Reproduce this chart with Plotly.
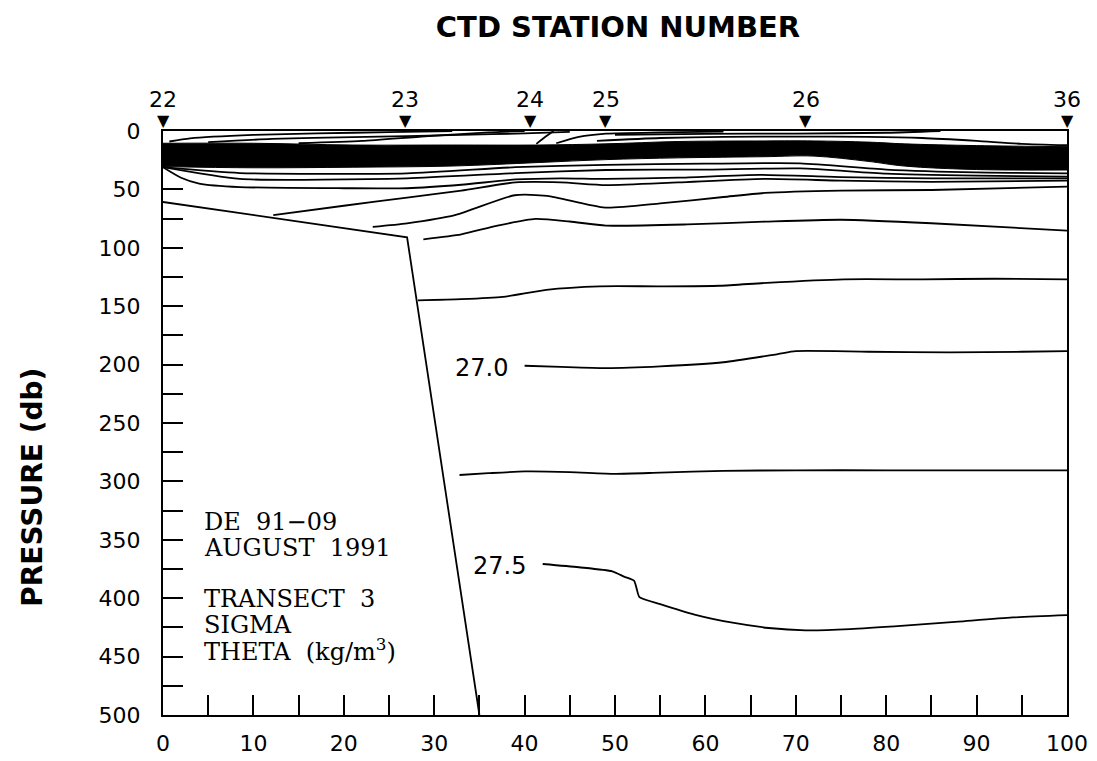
import plotly.graph_objects as go

# ---------------- data ----------------
station_x = [0, 26.8, 40.6, 49, 71.1, 100]
station_labels = ["22", "23", "24", "25", "26", "36"]

# bottom (bathymetry) outline
bottom_x = [0, 27, 35]
bottom_y = [60.8, 91, 500]

# dense near-surface pycnocline band (boundaries)
band_x = [0, 10, 21, 32, 41.5, 49, 57, 66.6, 72, 78, 82, 90, 100]
band_top = [10.5, 10.5, 12, 12, 12, 11, 9, 8.5, 8.5, 9.5, 11, 12.5, 13.4]
band_bot = [30.5, 31.5, 31, 30, 27, 24.5, 23, 22, 21.5, 26, 30, 33, 33.4]

# contours above the band
t1_x = [0.7, 3, 10, 17, 25, 32]
t1_y = [9, 6.3, 3.4, 2, 1, 0]
t2_x = [5, 12, 21, 33, 40, 45]
t2_y = [9.5, 6.8, 5.2, 3.4, 2, 0.8]
t3_x = [15, 22, 29, 36, 40]
t3_y = [10.5, 8.5, 4.5, 1.2, 0]
d1_x = [41.3, 42.3, 43.2]
d1_y = [11, 5, 0]
d2_x = [43.5, 46, 49, 55, 62]
d2_y = [10.5, 5, 2.2, 1.2, 0.5]
u1_x = [48, 55, 62, 70, 78, 84, 90, 95, 100]
u1_y = [8.5, 6, 5, 4.8, 5, 6, 8.5, 11, 12.2]
u2_x = [50, 60, 70, 80, 86]
u2_y = [3.2, 2.4, 2.2, 1.5, 0]

# contours below the band
p2_x = [0, 8.5, 27, 39, 49, 60, 70.5, 80, 90, 100]
p2_y = [31, 36, 36.2, 31, 29, 28, 27.7, 33, 35.5, 36.2]
p3_x = [0, 8.5, 27, 39, 49, 60, 70.5, 80, 90, 100]
p3_y = [31, 41, 40.5, 36, 33.4, 33, 32, 36.5, 38.2, 39]
q1_x = [0, 2, 4, 8.5, 20, 27, 33, 39, 44, 49, 57, 66, 75, 85, 100]
q1_y = [31, 40, 45, 48, 49, 49, 46, 41.5, 40.5, 41, 40, 37.5, 39.5, 40.5, 40.5]
l1_x = [12.2, 20, 27, 33, 39, 44, 49, 57, 66.6, 75, 85, 100]
l1_y = [72, 64, 57, 51, 44, 44, 46.3, 44, 41, 42.5, 43.5, 42.5]
l2_x = [23.2, 27, 32.3, 38.9, 42.5, 48.9, 55, 62, 66.6, 75, 85, 100]
l2_y = [82, 79, 72, 55, 55.5, 65.6, 62, 56.5, 53, 51, 50.5, 47.7]
l3_x = [28.8, 33, 37, 41.2, 45, 49, 58, 66.6, 75, 85, 100]
l3_y = [92.7, 88.5, 81, 75.3, 77.5, 81, 80, 77.6, 76, 79, 85.3]

# deeper isopycnals
c140_x = [28.2, 33, 37.6, 42.4, 48.3, 55, 61.6, 66.8, 75.3, 84, 92, 100]
c140_y = [145, 144, 142, 136, 133, 133, 132.5, 130, 127, 127, 126.5, 127]
c270_x = [40, 44, 49, 55, 62, 68, 70, 78, 87, 95, 100]
c270_y = [201, 202, 203, 201.5, 198, 191, 188.5, 189, 189.5, 189, 188.5]
c290_x = [32.8, 36, 40, 45, 50, 55, 62, 70, 80, 90, 100]
c290_y = [294.5, 293, 291.5, 292, 293.5, 292.5, 291, 290.5, 290.5, 290.5, 290.5]
c275_x = [42, 46, 49.7, 51, 52.1, 52.4, 52.7, 55, 58.8, 63, 67, 71.1, 76, 82, 88, 94, 100]
c275_y = [370.7, 373.5, 377, 381.5, 385, 392, 399, 405, 414, 421, 425.5, 427.5, 426.5, 423.5, 420, 416.5, 414.5]

contour_labels = ["27.0", "27.5"]
contour_label_x = [35.2, 37.2]
contour_label_y = [202.5, 372.4]

info_lines = ["DE  91\u221209", "AUGUST  1991", "TRANSECT  3", "SIGMA", "THETA  (kg/m<sup>3</sup>)"]
info_y = [334.8, 357.0, 400.7, 423.0, 444.3]

x_ticks = [0, 10, 20, 30, 40, 50, 60, 70, 80, 90, 100]
y_ticks = [0, 50, 100, 150, 200, 250, 300, 350, 400, 450, 500]

# ---------------- figure ----------------
fig = go.Figure()
LW = 1.8
BLACK = "black"

# dense band as filled region
fig.add_trace(go.Scatter(x=band_x, y=band_top, mode="lines",
                         line=dict(color=BLACK, width=1, shape="spline"),
                         hoverinfo="skip", showlegend=False))
fig.add_trace(go.Scatter(x=band_x, y=band_bot, mode="lines", fill="tonexty",
                         fillcolor=BLACK, line=dict(color=BLACK, width=1, shape="spline"),
                         hoverinfo="skip", showlegend=False))

lines = [
    (t1_x, t1_y), (t2_x, t2_y), (t3_x, t3_y), (d1_x, d1_y), (d2_x, d2_y),
    (u1_x, u1_y), (u2_x, u2_y),
    (p2_x, p2_y), (p3_x, p3_y), (q1_x, q1_y), (l1_x, l1_y), (l2_x, l2_y), (l3_x, l3_y),
    (c140_x, c140_y), (c270_x, c270_y), (c290_x, c290_y), (c275_x, c275_y),
]
for lx, ly in lines:
    fig.add_trace(go.Scatter(x=lx, y=ly, mode="lines",
                             line=dict(color=BLACK, width=LW, shape="spline", smoothing=0.6),
                             hoverinfo="skip", showlegend=False))

# bottom outline
fig.add_trace(go.Scatter(x=bottom_x, y=bottom_y, mode="lines",
                         line=dict(color=BLACK, width=LW),
                         hoverinfo="skip", showlegend=False))

# contour labels
for cx, cy, ct in zip(contour_label_x, contour_label_y, contour_labels):
    fig.add_annotation(x=cx, y=cy, xref="x", yref="y", text=ct, showarrow=False,
                       xanchor="center", yanchor="middle",
                       font=dict(family="DejaVu Sans", size=24, color=BLACK))

# station markers and numbers above the frame
for sx, sl in zip(station_x, station_labels):
    fig.add_annotation(x=sx, y=1.0188, xref="x", yref="paper", text="\u25BC",
                       showarrow=False, xanchor="center", yanchor="middle",
                       font=dict(family="DejaVu Sans", size=16, color=BLACK))
    fig.add_annotation(x=sx, y=1.0531, xref="x", yref="paper", text=sl,
                       showarrow=False, xanchor="center", yanchor="middle",
                       font=dict(family="DejaVu Sans", size=22, color=BLACK))

for txt, yy in zip(info_lines, info_y):
    fig.add_annotation(x=4.3, y=yy, xref="x", yref="y", text=txt, showarrow=False,
                       xanchor="left", yanchor="middle",
                       font=dict(family="DejaVu Serif", size=24, color=BLACK))

fig.add_annotation(x=-0.1438, y=0.389, xref="paper", yref="paper",
                   text="<b>PRESSURE (db)</b>", showarrow=False, textangle=-90,
                   xanchor="center", yanchor="middle",
                   font=dict(family="DejaVu Sans", size=28, color=BLACK))

axis_common = dict(showgrid=False, zeroline=False, showline=True, linecolor=BLACK,
                   linewidth=2, mirror=True, ticks="inside", ticklen=20, tickwidth=1.8,
                   tickcolor=BLACK, automargin=False,
                   tickfont=dict(family="DejaVu Sans", size=22, color=BLACK))

fig.update_xaxes(range=[0, 100], tickvals=x_ticks, ticktext=[str(v) for v in x_ticks],
                 minor=dict(dtick=5, tick0=0, ticks="inside", ticklen=20, tickwidth=1.8,
                            tickcolor=BLACK, showgrid=False),
                 ticklabelstandoff=8, **axis_common)
fig.update_yaxes(range=[500, 0], tickvals=y_ticks, ticktext=[str(v) for v in y_ticks],
                 minor=dict(dtick=25, tick0=0, ticks="inside", ticklen=20, tickwidth=1.8,
                            tickcolor=BLACK, showgrid=False),
                 ticklabelstandoff=16, **axis_common)

fig.update_layout(
    width=1089, height=753,
    margin=dict(l=155, r=30, t=123, b=46),
    paper_bgcolor="white", plot_bgcolor="white",
    title=dict(text="<b>CTD STATION NUMBER</b>", x=610 / 1089, xref="container",
               y=1 - 19 / 753, yref="container", xanchor="center", yanchor="middle",
               font=dict(family="DejaVu Sans", size=29, color=BLACK)),
    showlegend=False,
)

fig.write_html("out.html")
